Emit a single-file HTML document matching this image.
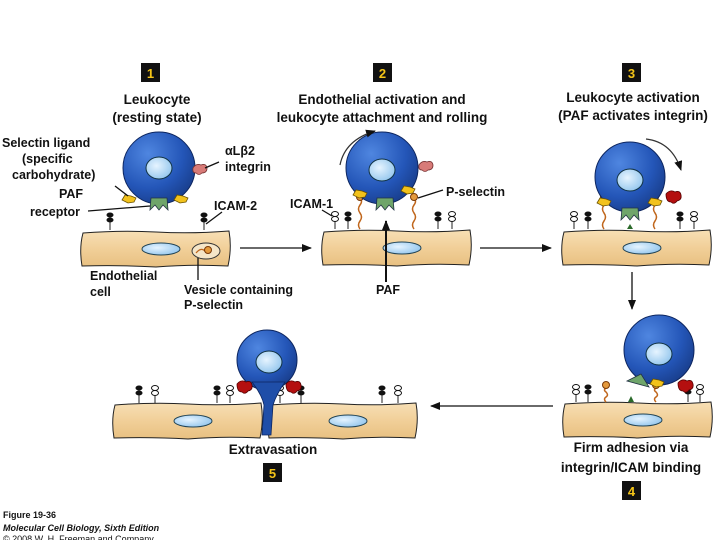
<!DOCTYPE html>
<html><head><meta charset="utf-8"><style>
html,body{margin:0;padding:0;background:#fff;}
svg{display:block;}
text{font-family:"Liberation Sans",sans-serif;font-weight:bold;fill:#111;}
.t{font-size:13.5px;text-anchor:middle;}
.l{font-size:12.5px;}
.b{font-size:13px;fill:#f5c518;text-anchor:middle;}
</style></head><body>
<svg width="720" height="540" viewBox="0 0 720 540" xmlns="http://www.w3.org/2000/svg">
<defs>
<radialGradient id="bg" cx="0.35" cy="0.3" r="0.8">
<stop offset="0" stop-color="#4f86e0"/><stop offset="0.6" stop-color="#2456b8"/><stop offset="1" stop-color="#173a85"/></radialGradient>
<radialGradient id="ng" cx="0.4" cy="0.4" r="0.7"><stop offset="0" stop-color="#e6f4ff"/><stop offset="1" stop-color="#8ec3ec"/></radialGradient>
<linearGradient id="eg" x1="0" y1="0" x2="0" y2="1"><stop offset="0" stop-color="#f7dfb5"/><stop offset="0.5" stop-color="#f1cf98"/><stop offset="1" stop-color="#e8c081"/></linearGradient>
<g id="endo"><path d="M2,3 Q40,0 75,2 Q110,4 148,1 Q151,18 147,36 Q110,34 75,37 Q40,35 1,36 Q-2,18 2,3Z" fill="url(#eg)" stroke="#222" stroke-width="1"/>
<ellipse cx="80" cy="19" rx="19" ry="6" fill="url(#ng)" stroke="#245" stroke-width="1"/></g>
<g id="icb"><line x1="0" y1="0" x2="0" y2="-8" stroke="#222"/><ellipse cx="0" cy="-10" rx="3.5" ry="2.5" fill="#111"/><ellipse cx="0" cy="-15" rx="3.5" ry="2.5" fill="#111"/></g>
<g id="icw"><line x1="0" y1="0" x2="0" y2="-8" stroke="#222"/><ellipse cx="0" cy="-10" rx="3.5" ry="2.5" fill="#fff" stroke="#111"/><ellipse cx="0" cy="-15" rx="3.5" ry="2.5" fill="#fff" stroke="#111"/></g>
<g id="psel"><path d="M0,0 q-3,-4 0,-8 q3,-4 0,-8 q-3,-4 0,-8 q3,-4 0,-6" fill="none" stroke="#c0661c" stroke-width="1.5"/><circle cx="0" cy="-32" r="3.5" fill="#e49a3d" stroke="#7a3a08"/></g>
<g id="pselS"><path d="M0,0 q-3,-3 0,-5 q3,-2 0,-5 q-3,-2 0,-4" fill="none" stroke="#c0661c" stroke-width="1.5"/><circle cx="0" cy="-17" r="3.5" fill="#e49a3d" stroke="#7a3a08"/></g>
<g id="lig"><path d="M-7,0 l3,-5 l6,1 l5,2 l-2,4 l-6,1z" fill="#f2c21c" stroke="#6a5200" stroke-width="0.8"/></g>
<g id="paf"><path d="M-8,-5 L8,-5 L9,7 L4,2 L0,7 L-4,2 L-9,7Z" fill="#6fa56a" stroke="#234" stroke-width="0.8"/></g>
<g id="intA"><path d="M-6,-4 q4,-5 9,-2 q5,-2 6,3 q1,5 -4,6 q-3,4 -6,1 q-5,0 -5,-8z" fill="#b40f0f" stroke="#500" stroke-width="0.8"/></g>
<g id="intR"><path d="M-6,-3 q3,-5 8,-3 q5,-2 6,3 q0,5 -5,5 q-3,3 -6,0 q-4,0 -3,-5z" fill="#d87b78" stroke="#733" stroke-width="0.8"/></g>
<marker id="ah" markerWidth="10" markerHeight="8" refX="9" refY="4" orient="auto" markerUnits="userSpaceOnUse"><path d="M0,0 L10,4 L0,8Z" fill="#111"/></marker>
</defs>

<rect x="141" y="63" width="19" height="19" fill="#111"/><text class="b" x="150.5" y="78">1</text>
<rect x="373" y="63" width="19" height="19" fill="#111"/><text class="b" x="382.5" y="78">2</text>
<rect x="622" y="63" width="19" height="19" fill="#111"/><text class="b" x="631.5" y="78">3</text>
<rect x="622" y="481" width="19" height="19" fill="#111"/><text class="b" x="631.5" y="496">4</text>
<rect x="263" y="463" width="19" height="19" fill="#111"/><text class="b" x="272.5" y="478">5</text>

<text class="t" x="157" y="104">Leukocyte</text>
<text class="t" x="157" y="122">(resting state)</text>
<text class="t" x="382" y="104">Endothelial activation and</text>
<text class="t" x="382" y="122">leukocyte attachment and rolling</text>
<text class="t" x="633" y="102">Leukocyte activation</text>
<text class="t" x="633" y="120">(PAF activates integrin)</text>

<!-- panel 1 -->
<use href="#endo" x="81" y="230"/>
<ellipse cx="206" cy="251" rx="14" ry="8" fill="#f5e6c8" stroke="#333"/>
<path d="M196,253 q5,-6 9,-2" fill="none" stroke="#c0661c" stroke-width="1.3"/><circle cx="208" cy="250" r="3.5" fill="#e49a3d" stroke="#7a3a08"/>
<use href="#icb" x="110" y="230"/><use href="#icb" x="204" y="230"/>
<circle cx="159" cy="168" r="36" fill="url(#bg)" stroke="#0d2660"/>
<ellipse cx="159" cy="168" rx="13" ry="11" fill="url(#ng)" stroke="#134"/>
<use href="#lig" x="129" y="200"/><use href="#lig" x="181" y="200"/>
<use href="#paf" x="159" y="203"/>
<use href="#intR" x="199" y="171"/>
<g stroke="#111" stroke-width="1.3" fill="none">
<line x1="115" y1="186" x2="128" y2="196"/>
<line x1="88" y1="211" x2="150" y2="206"/>
<line x1="205" y1="168" x2="219" y2="162"/>
<line x1="206" y1="224" x2="222" y2="212"/>
<line x1="198" y1="258" x2="198" y2="280"/>
</g>
<text class="l" x="2" y="147">Selectin ligand</text>
<text class="l" x="22" y="163">(specific</text>
<text class="l" x="12" y="179">carbohydrate)</text>
<text class="l" x="59" y="198">PAF</text>
<text class="l" x="30" y="216">receptor</text>
<text class="l" x="225" y="155">αLβ2</text>
<text class="l" x="225" y="171">integrin</text>
<text class="l" x="214" y="210">ICAM-2</text>
<text class="l" x="90" y="280">Endothelial</text>
<text class="l" x="90" y="296">cell</text>
<text class="l" x="184" y="294">Vesicle containing</text>
<text class="l" x="184" y="309">P-selectin</text>

<line x1="240" y1="248" x2="311" y2="248" stroke="#111" stroke-width="1.3" marker-end="url(#ah)"/>

<!-- panel 2 -->
<use href="#endo" x="322" y="229"/>
<use href="#icw" x="335" y="229"/><use href="#icb" x="348" y="229"/>
<use href="#icb" x="438" y="229"/><use href="#icw" x="452" y="229"/>
<use href="#psel" x="360" y="229"/><use href="#psel" x="414" y="229"/>
<circle cx="382" cy="168" r="36" fill="url(#bg)" stroke="#0d2660"/>
<ellipse cx="382" cy="170" rx="13" ry="11" fill="url(#ng)" stroke="#134"/>
<use href="#lig" x="360" y="195"/><use href="#lig" x="408" y="191"/>
<use href="#paf" x="385" y="203"/>
<use href="#intR" x="425" y="168"/>
<path d="M340,165 Q345,140 375,131" fill="none" stroke="#333" stroke-width="1.2" marker-end="url(#ah)"/>
<line x1="386" y1="282" x2="386" y2="221" stroke="#111" stroke-width="2" marker-end="url(#ah)"/>
<g stroke="#111" stroke-width="1.3"><line x1="322" y1="210" x2="332" y2="216"/><line x1="418" y1="198" x2="443" y2="190"/></g>
<text class="l" x="290" y="208">ICAM-1</text>
<text class="l" x="446" y="196">P-selectin</text>
<text class="l" x="376" y="294">PAF</text>

<line x1="480" y1="248" x2="551" y2="248" stroke="#111" stroke-width="1.3" marker-end="url(#ah)"/>

<!-- panel 3 -->
<use href="#endo" x="562" y="229"/>
<use href="#icw" x="574" y="229"/><use href="#icb" x="588" y="229"/>
<use href="#icb" x="680" y="229"/><use href="#icw" x="694" y="229"/>
<use href="#psel" x="604" y="229"/><use href="#psel" x="655" y="229"/>
<path d="M627,229 l3,-5 l3,5z" fill="#2a6a2a"/>
<circle cx="630" cy="177" r="35" fill="url(#bg)" stroke="#0d2660"/>
<ellipse cx="630" cy="180" rx="13" ry="11" fill="url(#ng)" stroke="#134"/>
<use href="#lig" x="604" y="203"/><use href="#lig" x="655" y="203"/>
<use href="#paf" x="630" y="213"/>
<use href="#intA" x="672" y="198"/>
<path d="M646,139 Q672,142 681,170" fill="none" stroke="#333" stroke-width="1.2" marker-end="url(#ah)"/>

<line x1="632" y1="272" x2="632" y2="309" stroke="#111" stroke-width="1.3" marker-end="url(#ah)"/>

<!-- panel 4 -->
<use href="#endo" x="563" y="401"/>
<use href="#icw" x="576" y="402"/><use href="#icb" x="588" y="402"/>
<use href="#icb" x="688" y="402"/><use href="#icw" x="700" y="402"/>
<use href="#pselS" x="606" y="402"/><use href="#pselS" x="656" y="402"/>
<path d="M628,402 l3,-6 l3,6z" fill="#2a6a2a"/>
<circle cx="659" cy="350" r="35" fill="url(#bg)" stroke="#0d2660"/>
<ellipse cx="659" cy="354" rx="13" ry="11" fill="url(#ng)" stroke="#134"/>
<path d="M627,381 l14,-7 l8,13 z" fill="#6fa56a" stroke="#234" stroke-width="0.8"/>
<use href="#lig" x="657" y="384"/>
<use href="#intA" x="684" y="387"/>
<text class="t" x="631" y="452">Firm adhesion via</text>
<text class="t" x="631" y="472">integrin/ICAM binding</text>

<line x1="553" y1="406" x2="431" y2="406" stroke="#111" stroke-width="1.3" marker-end="url(#ah)"/>

<!-- panel 5 -->
<use href="#endo" x="113" y="402"/><use href="#endo" x="268" y="402"/>
<use href="#icb" x="139" y="403"/><use href="#icw" x="155" y="403"/>
<use href="#icb" x="217" y="403"/><use href="#icw" x="230" y="403"/>
<use href="#icw" x="280" y="403"/><use href="#icb" x="301" y="403"/>
<use href="#icb" x="382" y="403"/><use href="#icw" x="398" y="403"/>
<circle cx="267" cy="360" r="30" fill="url(#bg)" stroke="#0d2660"/>
<path d="M252,382 Q262,395 264,405 L262,435 L271,435 L273,405 Q276,395 285,382Z" fill="#1f4ea8" stroke="#0d2660" stroke-width="0.8"/>
<ellipse cx="269" cy="362" rx="13" ry="11" fill="url(#ng)" stroke="#134"/>
<use href="#intA" x="243" y="388"/><use href="#intA" x="292" y="388"/>
<text class="t" x="273" y="454">Extravasation</text>

<text x="3" y="518" style="font-size:9px">Figure 19-36</text>
<text x="3" y="531" style="font-size:9px;font-style:italic">Molecular Cell Biology, Sixth Edition</text>
<text x="3" y="542" style="font-size:9px;font-weight:normal">© 2008 W. H. Freeman and Company</text>
</svg>
</body></html>
